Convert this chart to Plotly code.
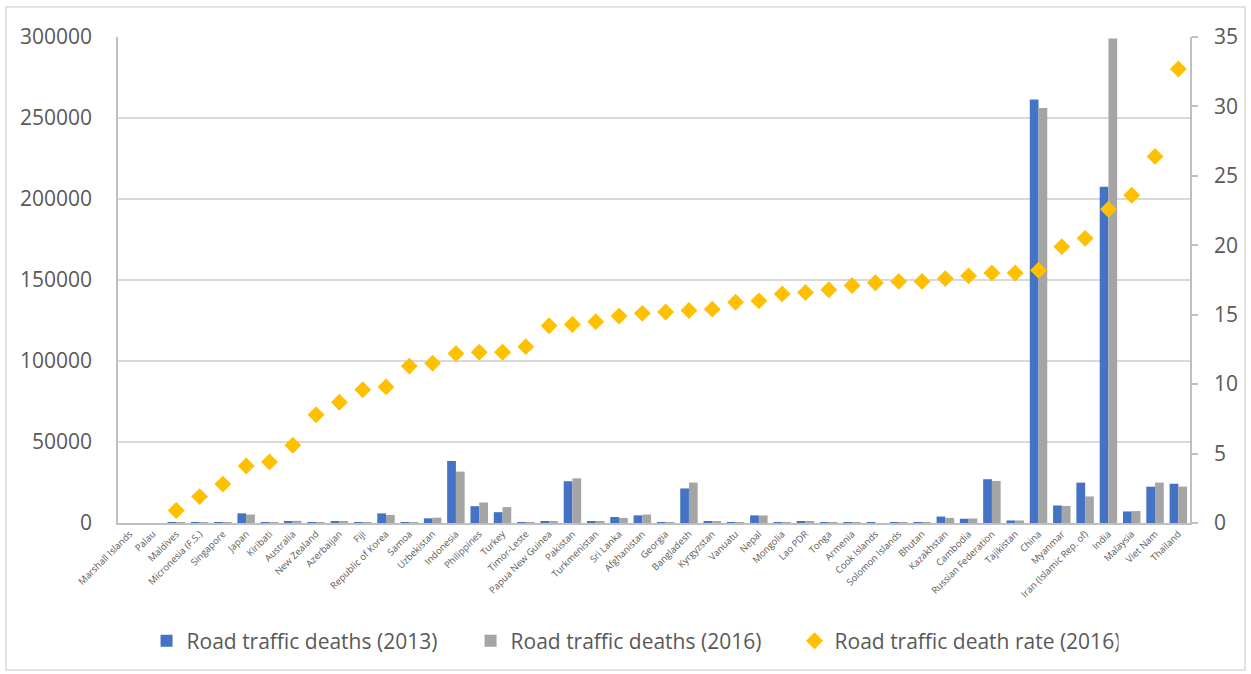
import plotly.graph_objects as go

countries = [
    "Marshall Islands", "Palau", "Maldives", "Micronesia (F.S.)", "Singapore", "Japan",
    "Kiribati", "Australia", "New Zealand", "Azerbaijan", "Fiji", "Republic of Korea",
    "Samoa", "Uzbekistan", "Indonesia", "Philippines", "Turkey", "Timor-Leste",
    "Papua New Guinea", "Pakistan", "Turkmenistan", "Sri Lanka", "Afghanistan", "Georgia",
    "Bangladesh", "Kyrgyzstan", "Vanuatu", "Nepal", "Mongolia", "Lao PDR", "Tonga",
    "Armenia", "Cook Islands", "Solomon Islands", "Bhutan", "Kazakhstan", "Cambodia",
    "Russian Federation", "Tajikistan", "China", "Myanmar", "Iran (Islamic Rep. of)",
    "India", "Malaysia", "Viet Nam", "Thailand",
]

deaths_2013 = [
    0, 0, 8, 20, 197, 5971,
    31, 1252, 272, 1073, 45, 5931,
    30, 2900, 38279, 10379, 6687, 188,
    1232, 25781, 914, 3691, 4734, 598,
    21316, 1220, 43, 4713, 597, 971, 7,
    546, 4, 112, 114, 3983, 2635,
    27025, 1577, 261367, 10809, 24896,
    207551, 7129, 22419, 24237,
]

deaths_2016 = [
    0, 0, 4, 18, 159, 5224,
    35, 1351, 364, 845, 85, 4990,
    25, 3300, 31726, 12690, 9782, 143,
    1195, 27582, 823, 3157, 5230, 599,
    24954, 916, 44, 4622, 491, 1117, 18,
    499, 3, 106, 128, 3158, 2803,
    25969, 1543, 256180, 10540, 16426,
    299091, 7374, 24970, 22491,
]

death_rate_2016 = [
    None, None, 0.9, 1.9, 2.8, 4.1,
    4.4, 5.6, 7.8, 8.7, 9.6, 9.8,
    11.3, 11.5, 12.2, 12.3, 12.3, 12.7,
    14.2, 14.3, 14.5, 14.9, 15.1, 15.2,
    15.3, 15.4, 15.9, 16.0, 16.5, 16.6, 16.8,
    17.1, 17.3, 17.4, 17.4, 17.6, 17.8,
    18.0, 18.0, 18.2, 19.9, 20.5,
    22.6, 23.6, 26.4, 32.7,
]

text_color = "#595959"
grid_color = "#D9D9D9"
axis_color = "#BFBFBF"

fig = go.Figure()
fig.add_trace(go.Bar(x=countries, y=deaths_2013, name="Road traffic deaths (2013)",
                     marker=dict(color="#4472C4", line=dict(width=0))))
fig.add_trace(go.Bar(x=countries, y=deaths_2016, name="Road traffic deaths (2016)",
                     marker=dict(color="#A5A5A5", line=dict(width=0))))
fig.add_trace(go.Scatter(x=countries, y=death_rate_2016, name="Road traffic death rate (2016)",
                         mode="markers", yaxis="y2",
                         marker=dict(symbol="diamond", size=13, color="#FFC000")))

# outer chart border
fig.add_shape(type="rect", xref="paper", yref="paper",
              x0=-0.1045, x1=1.0513, y0=-0.3025, y1=1.0617,
              line=dict(color=grid_color, width=1.5), layer="below")

fig.update_layout(
    width=1251, height=674,
    margin=dict(l=118, r=61, t=37, b=151),
    paper_bgcolor="white", plot_bgcolor="white",
    font=dict(family="Open Sans", color=text_color),
    barmode="group", bargap=0.25, bargroupgap=0,
    showlegend=True,
    legend=dict(orientation="h", x=0.48, xanchor="center", y=-0.243, yanchor="middle",
                font=dict(size=21, color=text_color), itemwidth=30,
                entrywidth=279, traceorder="normal"),
    xaxis=dict(tickangle=-45, tickfont=dict(size=9.5, color=text_color),
               range=[-0.5, len(countries) - 0.5],
               showline=True, linecolor=axis_color, linewidth=1.5,
               showgrid=False, ticks="", automargin=False),
    yaxis=dict(range=[0, 300000], dtick=50000, tickfont=dict(size=21, color=text_color),
               showline=True, linecolor=axis_color, linewidth=1.5,
               gridcolor=grid_color, gridwidth=1.5, zeroline=False,
               ticklabelstandoff=20, tickformat="d", automargin=False),
    yaxis2=dict(range=[0, 35], dtick=5, overlaying="y", side="right",
                tickfont=dict(size=21, color=text_color),
                showline=True, linecolor=axis_color, linewidth=1.5,
                showgrid=False, zeroline=False,
                ticks="outside", ticklen=6, tickcolor=axis_color, tickwidth=1.5,
                ticklabelstandoff=12, automargin=False),
)

# drop the default body margin so the figure fills the window exactly
fig.write_html("out.html", config={"displayModeBar": False},
               post_script="document.body.style.margin='0';")
